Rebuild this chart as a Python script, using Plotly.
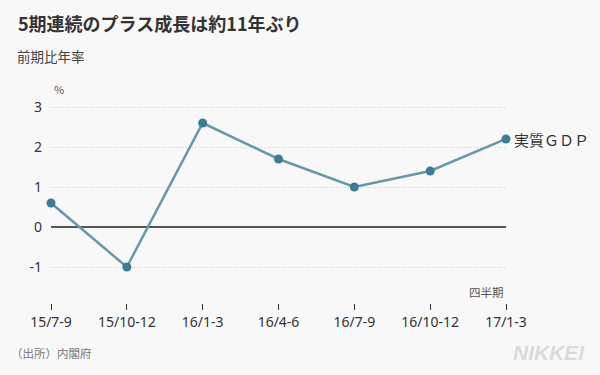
import plotly.graph_objects as go

categories = ["15/7-9", "15/10-12", "16/1-3", "16/4-6", "16/7-9", "16/10-12", "17/1-3"]
gdp_values = [0.6, -1.0, 2.6, 1.7, 1.0, 1.4, 2.2]
y_ticks = [-1, 0, 1, 2, 3]
y_tick_text = ["-1", "0", "1", "2", "3"]
series_name = "実質ＧＤＰ"

FONT = "Noto Sans CJK JP, Noto Sans, sans-serif"
NUM_FONT = "Noto Sans, sans-serif"
L, R, T, B = 51, 94, 87, 72
W, H = 600, 375

fig = go.Figure()
fig.add_trace(go.Scatter(
    x=list(range(len(categories))), y=gdp_values, mode="lines+markers",
    line=dict(color="#6499ab", width=2.5),
    marker=dict(color="#3b7d96", size=9),
    cliponaxis=False, showlegend=False,
))

fig.add_annotation(x=len(categories) - 1, y=gdp_values[-1], text=series_name,
                   xref="x", yref="y", xanchor="left", yanchor="middle", xshift=6,
                   showarrow=False, font=dict(size=15, color="#333", family=FONT))

fig.update_layout(
    width=W, height=H,
    paper_bgcolor="#f8f8f8", plot_bgcolor="#f8f8f8",
    margin=dict(l=L, r=R, t=T, b=B),
    font=dict(family=FONT, color="#333"),
    xaxis=dict(range=[0, 6], tickmode="array", tickvals=list(range(len(categories))),
               ticktext=categories, showgrid=False, zeroline=False, showline=False,
               ticks="outside", ticklen=6, tickwidth=1, tickcolor="#333",
               tickfont=dict(size=14, color="#333", family=NUM_FONT)),
    yaxis=dict(range=[-1.9, 3.5], tickmode="array", tickvals=y_ticks, ticktext=y_tick_text,
               showgrid=True, gridcolor="#cfcfcf", griddash="1px,2px", gridwidth=1,
               zeroline=True, zerolinecolor="#555", zerolinewidth=1.5,
               showline=False, ticks="", ticklabelstandoff=8,
               tickfont=dict(size=14, color="#333", family=NUM_FONT)),
)

def px_ann(text, x, y, size, color, anchor, family=FONT):
    fig.add_annotation(xref="paper", yref="paper",
                       x=(x - L) / (W - L - R), y=1 - (y - T) / (H - T - B),
                       text=text, showarrow=False, xanchor=anchor, yanchor="middle",
                       font=dict(size=size, color=color, family=family))

px_ann("<b>5期連続のプラス成長は約11年ぶり</b>", 16, 23, 18, "#333", "left")
px_ann("前期比年率", 15, 56, 13.5, "#444", "left")
px_ann("%", 52, 89, 11, "#555", "left")
px_ann("四半期", 506, 292, 11.5, "#555", "right")
px_ann("（出所）内閣府", 9, 353, 11.5, "#777", "left")
px_ann("<b><i>NIKKEI</i></b>", 587, 352, 21, "#dadada", "right", "Liberation Sans, Arial")

fig.write_html("out.html", config={"displayModeBar": False},
               post_script="document.body.style.margin='0';document.body.style.overflow='hidden';")
